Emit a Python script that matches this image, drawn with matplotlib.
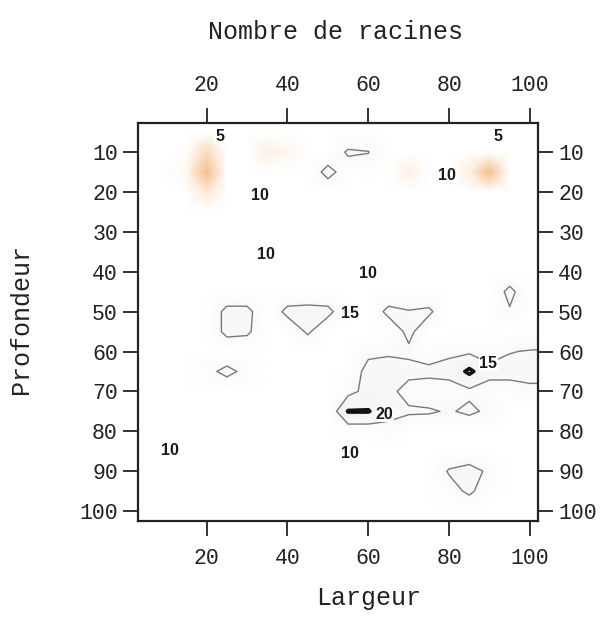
import matplotlib
matplotlib.use("Agg")
import matplotlib.pyplot as plt
import numpy as np
from matplotlib.colors import LinearSegmentedColormap, Normalize

# ---- data ----
largeur = list(range(0, 110, 5))      # x grid (Largeur)
profondeur = list(range(0, 110, 5))   # y grid (Profondeur)

# number of roots per grid cell (rows = profondeur, cols = largeur)
racines = [
    # x: 0   5   10  15  20  25   30   35  40   45  50   55    60    65    70    75    80    85  90  95    100   105
    [9, 9, 9, 9, 9, 9, 9, 9, 9, 9, 9, 9, 9, 9, 9, 9, 9, 9, 9, 9, 9, 9],                                  # 0
    [10, 10, 10, 9, 9, 9, 9, 9, 9, 10, 10, 10, 10, 10, 10, 10, 10, 9, 9, 9, 9, 10],                      # 5
    [11, 11, 10, 9, 6, 9, 9, 7.5, 8, 10, 11, 15.8, 15.2, 10, 9, 10, 10, 9, 8.5, 9, 10, 11],              # 10
    [11, 11, 10, 8, 4.5, 9, 10, 10, 10, 11, 17, 12, 12, 9, 7.5, 9, 9, 7.5, 4.5, 9, 10, 11],              # 15
    [11, 11, 11, 9, 7, 10, 11, 11, 11, 11, 11, 11, 11, 11, 10, 11, 11, 11, 10, 11, 11, 11],              # 20
    [11] * 22,                                                                                           # 25
    [11] * 22,                                                                                           # 30
    [11] * 22,                                                                                           # 35
    [11] * 22,                                                                                           # 40
    [11, 11, 11, 11, 11, 11, 11, 11, 11, 11, 11, 11, 11, 11, 11, 11, 11, 11, 11, 16.5, 11, 11],          # 45
    [11, 11, 11, 11, 11, 16.5, 16.5, 11, 16.5, 17, 16.5, 11, 11, 16.5, 15.3, 16, 11, 11, 11, 14.5, 11, 11],  # 50
    [11, 11, 11, 11, 11, 16.5, 16, 11, 11, 15.8, 11, 11, 11, 11, 16.5, 11, 11, 11, 11, 11, 11, 11],      # 55
    [11, 11, 11, 11, 11, 11, 11, 11, 11, 11, 11, 11, 14, 14.5, 14, 12, 14.2, 14.2, 13, 14.8, 15.3, 15.5],  # 60
    [11, 11, 11, 11, 13.5, 16.5, 13.5, 11, 11, 11, 11, 12, 16.5, 16.5, 16.5, 16.5, 16.5, 21, 16.5, 16.5, 16.5, 16.5],  # 65
    [11, 11, 11, 11, 11, 11, 11, 11, 11, 11, 11, 13.5, 16.5, 16.5, 13, 12, 13, 14, 13, 13, 14, 14],      # 70
    [11, 11, 11, 11, 11, 11, 11, 11, 11, 11, 11, 20.3, 20.3, 16.5, 15.8, 15.6, 14.5, 16, 14, 11, 11, 11],  # 75
    [11, 11, 11, 11, 11, 11, 11, 11, 11, 11, 11, 12, 12, 13.5, 11, 11, 11, 11, 11, 11, 11, 11],          # 80
    [11] * 22,                                                                                           # 85
    [11, 11, 11, 11, 11, 11, 11, 11, 11, 11, 11, 11, 11, 11, 11, 11, 15.5, 17, 14, 11, 11, 11],          # 90
    [11, 11, 11, 11, 11, 11, 11, 11, 11, 11, 11, 11, 11, 11, 11, 11, 13, 16, 12, 11, 11, 11],            # 95
    [11] * 22,                                                                                           # 100
    [11] * 22,                                                                                           # 105
]

niveaux_traces = [15]
niveau_fort = [20]

# contour labels
label_x = [23.3, 92.1, 33.2, 79.4, 34.7, 60.0, 10.9, 55.5, 55.5, 89.7, 64.1]
label_y = [6.2, 6.2, 21.0, 15.8, 35.6, 40.4, 84.7, 85.5, 50.4, 63.0, 75.7]
label_txt = ["5", "5", "10", "10", "10", "10", "10", "10", "15", "15", "20"]

x_ticks = [20, 40, 60, 80, 100]
y_ticks = [10, 20, 30, 40, 50, 60, 70, 80, 90, 100]

# ---- figure ----
W, H = 606, 634
fig = plt.figure(figsize=(W / 100, H / 100), dpi=100)
ax = fig.add_axes([138 / W, 1 - 521 / H, 400 / W, 398 / H])

X, Y = np.meshgrid(largeur, profondeur)
Z = np.array(racines, dtype=float)

cmap = LinearSegmentedColormap.from_list(
    "racines",
    [(0.0, "#f3b57a"), (0.11, "#fadcbd"), (0.25, "#ffffff"),
     (0.42, "#ffffff"), (0.65, "#f8f8f8"), (1.0, "#f0f0f0")])
norm = Normalize(vmin=4, vmax=22)
ax.pcolormesh(X, Y, Z, shading="gouraud", cmap=cmap, norm=norm, zorder=0)

ax.contour(X, Y, Z, levels=niveaux_traces, colors="#7a7a7a", linewidths=1.0, zorder=2)
ax.contour(X, Y, Z, levels=niveau_fort, colors="#111111", linewidths=2.6, zorder=3)

for lx, ly, lt in zip(label_x, label_y, label_txt):
    ax.text(lx, ly, lt, ha="center", va="center", fontsize=11.5, fontweight="bold",
            family="Liberation Sans", color="#1a1a1a", zorder=4,
            bbox=dict(facecolor="white", edgecolor="none", pad=0.3))

ax.set_xlim(3.0, 102.0)
ax.set_ylim(102.5, 2.7)

mono = "Liberation Mono"
ax.set_xticks(x_ticks)
ax.set_yticks(y_ticks)
ax.tick_params(axis="both", which="major", direction="out", length=10.5, width=1.3,
               labelsize=15.5, colors="#222222")
ax.tick_params(axis="x", top=True, labeltop=True, pad=9)
ax.tick_params(axis="y", right=True, labelright=True, pad=4)
for t in ax.xaxis.get_major_ticks() + ax.yaxis.get_major_ticks():
    t.label1.set_fontfamily(mono)
    t.label2.set_fontfamily(mono)
for sp in ax.spines.values():
    sp.set_linewidth(1.6)
    sp.set_color("#222222")

fig.text(335 / W, 1 - 32 / H, "Nombre de racines", ha="center", va="center",
         fontsize=18, family=mono, color="#222222")
fig.text(369 / W, 1 - 598 / H, "Largeur", ha="center", va="center",
         fontsize=18, family=mono, color="#222222")
fig.text(21 / W, 1 - 319 / H, "Profondeur", ha="center", va="center",
         rotation=90, fontsize=18, family=mono, color="#222222")

fig.savefig("out.png", dpi=100, facecolor="white")
